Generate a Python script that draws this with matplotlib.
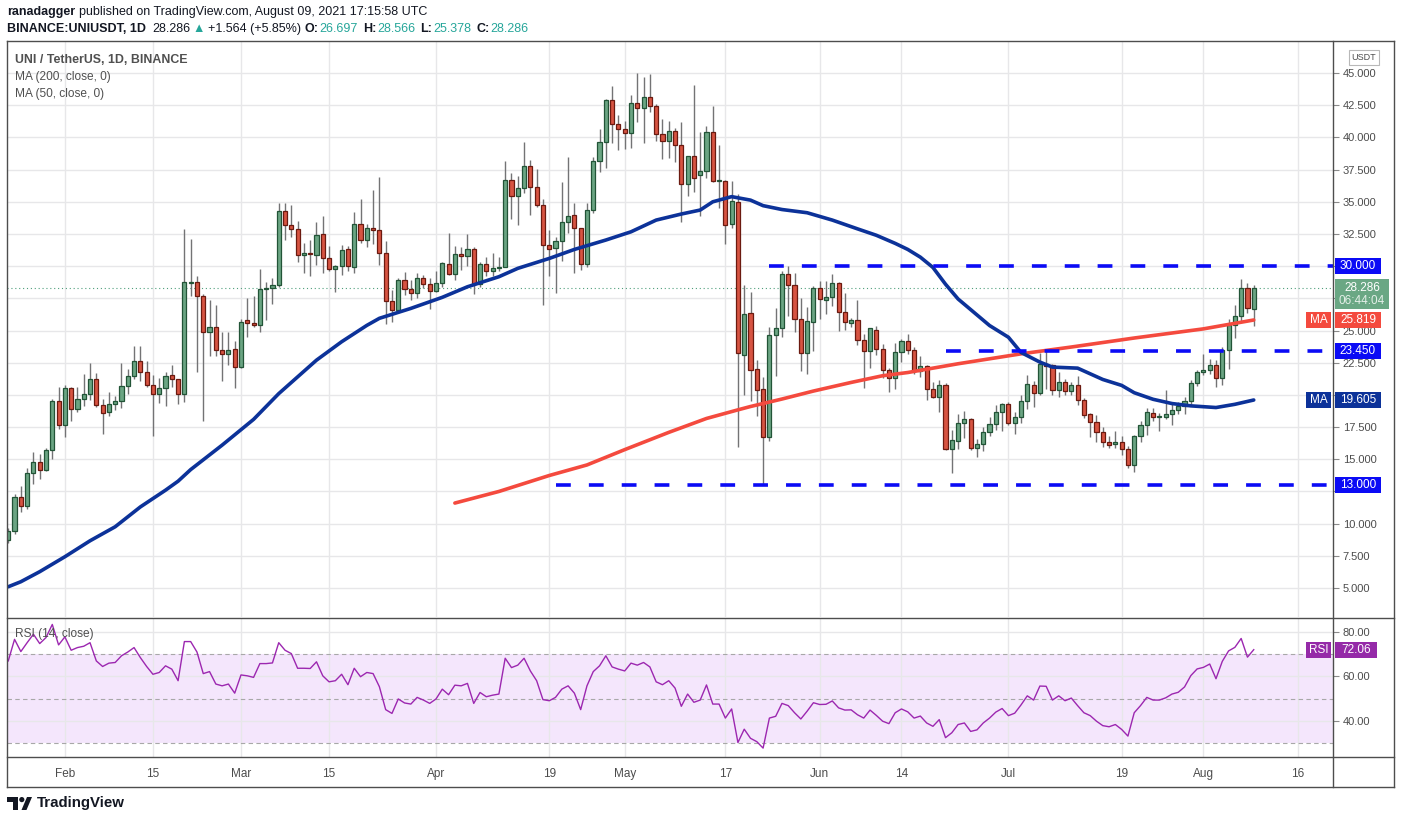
import numpy as np
import pandas as pd
import matplotlib
matplotlib.use("Agg")
import matplotlib.pyplot as plt
from matplotlib.lines import Line2D
from matplotlib.patches import Rectangle, Polygon, Circle

plt.rcParams['font.family'] = ['Liberation Sans', 'DejaVu Sans']

W, H = 1401, 823

# ---- data (UNI/USDT daily, Binance) ----
start_date = "2021-01-23"

opens = [
    8.75, 9.4, 12.08, 11.38, 13.93, 14.77, 14.16, 15.7, 19.56, 17.7,
    20.5, 18.94, 19.7, 20.1, 21.2, 19.2, 18.65, 19.3, 19.5, 20.7,
    21.5, 22.64, 21.8, 20.8, 20.1, 20.5, 21.56, 21.2, 20.1, 28.7,
    28.8, 27.7, 24.85, 25.3, 23.5, 23.15, 23.6, 22.2, 25.8, 25.55,
    25.4, 28.25, 28.3, 28.55, 34.26, 33.18, 32.87, 30.84, 31.0, 30.9,
    32.5, 30.6, 29.8, 30.0, 31.33, 29.9, 33.26, 32.0, 33.0, 32.83,
    31.06, 27.27, 26.57, 28.9, 28.2, 27.9, 29.05, 28.6, 28.04, 28.7,
    30.2, 29.43, 30.98, 30.82, 31.3, 28.58, 30.2, 29.6, 29.82, 29.97,
    36.7, 35.44, 36.08, 37.78, 36.16, 34.77, 31.65, 31.4, 31.92, 33.42,
    33.96, 32.95, 30.16, 34.35, 38.16, 39.64, 42.9, 41.04, 40.65, 40.34,
    42.67, 42.28, 43.13, 42.44, 40.26, 39.7, 40.5, 39.4, 36.37, 38.55,
    37.07, 37.38, 40.41, 36.6, 36.6, 33.3, 35.0, 23.12, 26.4, 21.98,
    20.43, 16.7, 24.69, 25.16, 29.42, 28.57, 25.93, 23.22, 25.7, 28.28,
    27.4, 27.63, 28.72, 26.47, 25.6, 25.85, 24.3, 23.42, 25.08, 23.6,
    21.9, 21.28, 23.32, 24.17, 23.5, 21.85, 22.24, 20.48, 19.83, 20.76,
    15.8, 16.42, 17.82, 18.13, 15.88, 16.19, 17.12, 17.74, 18.67, 19.29,
    17.82, 18.28, 19.55, 20.76, 20.14, 22.39, 22.3, 20.37, 21.0, 20.3,
    20.76, 19.58, 18.48, 17.9, 17.1, 16.37, 16.16, 16.32, 15.78, 14.59,
    16.78, 17.63, 18.63, 18.3, 18.25, 18.55, 18.86, 19.12, 19.56, 20.94,
    21.79, 21.97, 22.33, 21.3, 23.52, 25.42, 26.14, 28.27, 26.697,
]
highs = [
    9.63, 12.33, 12.9, 14.34, 15.6, 15.42, 15.88, 19.66, 20.6, 20.8,
    20.64, 20.6, 21.6, 22.5, 21.7, 19.7, 20.2, 19.9, 22.5, 22.05,
    23.8, 23.8, 22.6, 21.56, 21.3, 21.8, 22.3, 21.25, 32.9, 32.1,
    29.2, 27.8, 27.4, 27.0, 24.85, 24.9, 24.2, 25.9, 27.5, 27.7,
    29.8, 28.8, 29.1, 34.93, 34.93, 34.75, 33.5, 31.8, 32.0, 33.4,
    33.9, 31.6, 30.1, 31.66, 31.6, 34.2, 35.2, 33.26, 35.9, 36.9,
    31.93, 28.14, 29.07, 29.56, 28.9, 29.5, 29.3, 29.07, 29.6, 30.3,
    32.55, 31.57, 31.5, 32.47, 31.47, 30.36, 30.7, 31.0, 30.7, 38.2,
    37.24, 36.98, 39.64, 38.27, 37.58, 35.18, 32.78, 32.25, 36.55, 38.5,
    34.9, 32.95, 34.9, 38.47, 40.67, 42.98, 44.0, 41.76, 41.27, 43.3,
    45.0, 44.7, 44.95, 42.62, 41.42, 41.3, 40.73, 41.2, 38.55, 44.1,
    40.4, 40.9, 42.46, 39.43, 36.7, 36.65, 35.57, 28.5, 28.0, 22.7,
    21.36, 25.26, 26.73, 29.6, 30.0, 29.44, 27.56, 26.8, 28.44, 28.85,
    28.82, 29.42, 28.8, 27.9, 26.0, 27.35, 24.72, 25.23, 25.36, 23.94,
    22.08, 24.07, 24.33, 24.74, 23.7, 23.04, 22.34, 21.0, 21.12, 20.94,
    17.3, 18.54, 18.72, 18.2, 16.6, 17.5, 18.28, 19.19, 19.4, 19.44,
    18.67, 19.96, 21.56, 21.05, 23.27, 23.53, 22.42, 21.77, 21.25, 21.0,
    21.46, 19.74, 18.58, 18.43, 17.5, 16.78, 17.17, 16.78, 16.06, 16.9,
    17.96, 18.97, 18.97, 18.58, 20.35, 19.32, 19.48, 19.84, 21.12, 21.97,
    23.2, 22.8, 22.74, 23.75, 25.93, 26.99, 28.97, 28.66, 28.566,
]
lows = [
    8.5, 9.2, 10.87, 11.17, 13.05, 13.5, 14.08, 15.0, 17.35, 16.7,
    17.96, 18.7, 19.15, 19.6, 19.1, 17.0, 18.4, 18.8, 19.0, 20.05,
    21.25, 21.1, 20.6, 16.8, 19.4, 19.15, 20.6, 19.3, 19.45, 27.7,
    21.8, 18.0, 23.05, 23.0, 21.05, 22.3, 20.5, 22.1, 24.5, 25.3,
    24.9, 25.8, 27.1, 28.37, 32.0, 32.3, 30.3, 29.5, 29.2, 30.1,
    29.5, 29.6, 28.0, 29.35, 29.65, 29.5, 31.8, 31.46, 31.7, 30.1,
    25.5, 25.64, 26.4, 27.78, 27.37, 27.55, 28.3, 26.7, 28.0, 28.35,
    29.33, 28.9, 29.7, 30.0, 27.8, 28.35, 29.25, 29.2, 29.6, 29.94,
    33.7, 33.17, 35.7, 33.94, 34.59, 26.99, 29.2, 27.95, 30.4, 32.6,
    29.5, 29.7, 29.97, 34.1, 37.28, 37.6, 39.6, 39.0, 39.14, 39.2,
    41.17, 39.53, 41.94, 39.7, 38.3, 38.4, 38.06, 33.4, 35.47, 35.73,
    33.86, 36.84, 36.5, 34.48, 31.76, 32.93, 15.98, 20.0, 19.55, 18.4,
    13.0, 16.45, 21.49, 24.46, 26.14, 24.85, 21.82, 21.66, 23.42, 25.88,
    26.32, 26.9, 24.97, 25.05, 25.28, 23.9, 20.5, 22.1, 23.11, 21.3,
    20.25, 20.48, 22.52, 23.14, 21.64, 21.43, 19.57, 19.75, 18.67, 15.7,
    13.91, 15.8, 16.65, 15.7, 15.15, 15.62, 16.78, 17.3, 17.17, 17.64,
    16.94, 17.82, 18.93, 19.1, 20.01, 20.48, 19.96, 19.83, 19.96, 19.96,
    19.19, 18.17, 16.7, 16.37, 15.93, 15.85, 15.85, 15.37, 14.36, 14.0,
    16.37, 16.88, 17.96, 17.22, 18.12, 17.68, 18.5, 18.5, 19.27, 20.69,
    21.54, 21.66, 20.64, 20.77, 22.02, 24.44, 25.7, 26.34, 25.378,
]
closes = [
    9.4, 12.08, 11.38, 13.93, 14.77, 14.16, 15.7, 19.56, 17.7, 20.5,
    18.94, 19.7, 20.1, 21.2, 19.2, 18.6, 19.3, 19.5, 20.7, 21.5,
    22.64, 21.8, 20.8, 20.1, 20.5, 21.5, 21.2, 20.1, 28.8, 28.8,
    27.7, 24.85, 25.3, 23.5, 23.15, 23.5, 22.2, 25.7, 25.55, 25.4,
    28.25, 28.3, 28.55, 34.26, 33.23, 32.85, 30.84, 31.0, 30.95, 32.4,
    30.6, 29.8, 30.0, 31.25, 30.0, 33.26, 32.0, 32.95, 32.83, 31.06,
    27.27, 26.57, 28.9, 28.2, 27.9, 29.05, 28.6, 28.04, 28.7, 30.23,
    29.43, 30.98, 30.82, 31.3, 28.58, 30.2, 29.6, 29.82, 29.97, 36.7,
    35.44, 36.08, 37.78, 36.13, 34.74, 31.65, 31.36, 31.94, 33.42, 33.89,
    32.95, 30.16, 34.35, 38.16, 39.64, 42.9, 41.04, 40.65, 40.34, 42.67,
    42.28, 43.13, 42.44, 40.26, 39.7, 40.5, 39.4, 36.37, 38.55, 36.84,
    37.38, 40.41, 36.6, 36.65, 33.19, 35.08, 23.22, 26.3, 21.95, 20.35,
    16.7, 24.69, 25.16, 29.42, 28.57, 25.93, 23.22, 25.78, 28.28, 27.48,
    27.63, 28.72, 26.47, 25.7, 25.85, 24.3, 23.42, 25.16, 23.6, 21.9,
    21.28, 23.32, 24.15, 23.5, 21.85, 22.24, 20.48, 19.83, 20.76, 15.8,
    16.5, 17.82, 18.15, 15.88, 16.19, 17.12, 17.74, 18.67, 19.29, 17.82,
    18.28, 19.55, 20.87, 20.14, 22.39, 22.24, 20.37, 21.0, 20.3, 20.76,
    19.62, 18.45, 17.86, 17.1, 16.32, 16.11, 16.32, 15.78, 14.54, 16.78,
    17.63, 18.68, 18.25, 18.33, 18.55, 18.86, 19.12, 19.56, 20.94, 21.79,
    21.97, 22.33, 21.3, 23.52, 25.42, 26.14, 28.27, 26.722, 28.286,
]

rsi_values = [
    67.0, 76.7, 71.2, 75.2, 79.0, 74.8, 77.5, 83.4, 74.2, 77.8,
    71.8, 73.0, 73.6, 75.2, 67.0, 64.5, 66.0, 66.3, 69.3, 71.0,
    73.0, 68.5, 64.5, 61.0, 61.8, 64.8, 63.3, 58.1, 75.7, 75.7,
    71.0, 61.3, 62.2, 56.6, 55.8, 56.6, 52.5, 60.7, 60.3, 59.6,
    65.8, 65.8, 66.1, 75.2, 71.8, 70.3, 63.7, 63.7, 63.6, 66.6,
    60.3, 57.6, 58.1, 61.0, 56.3, 63.7, 59.9, 61.8, 61.3, 55.4,
    45.1, 43.4, 49.9, 48.1, 47.6, 50.6, 49.4, 47.9, 49.9, 54.3,
    51.8, 56.1, 55.8, 56.9, 47.9, 52.8, 50.9, 51.6, 52.1, 68.2,
    64.0, 65.1, 68.2, 62.5, 58.1, 49.6, 49.1, 50.6, 54.3, 55.8,
    52.5, 45.1, 55.8, 62.2, 64.8, 69.3, 64.3, 63.3, 62.5, 66.0,
    65.1, 66.3, 64.3, 57.6, 56.3, 58.1, 54.8, 46.6, 52.1, 48.4, 49.4,
    56.2, 47.6, 47.6, 41.3, 45.4, 30.3, 36.3, 32.2, 30.7, 27.8,
    41.3, 42.1, 47.9, 46.9, 43.7, 40.9, 44.4, 48.2, 47.4, 47.5,
    49.0, 45.9, 44.9, 45.0, 42.8, 41.3, 44.9, 42.5, 39.9, 38.8,
    43.7, 45.4, 44.1, 41.3, 42.2, 39.1, 37.6, 40.6, 32.5, 34.7,
    38.4, 39.1, 35.3, 36.0, 39.1, 41.3, 44.0, 45.6, 42.4, 43.5,
    47.2, 51.3, 49.4, 55.7, 55.6, 49.4, 51.3, 49.1, 50.3, 46.9,
    43.7, 42.4, 39.9, 37.9, 37.4, 38.4, 36.2, 33.2, 43.7, 46.9,
    50.6, 49.4, 49.4, 50.4, 52.1, 52.9, 55.3, 60.4, 63.4, 64.1,
    65.6, 59.0, 66.8, 71.5, 73.1, 77.1, 68.7, 72.06,
]

# moving averages, sampled along the drawn lines (day offset from start_date)
ma50_days = [0, 2, 5, 9, 13, 17, 21, 25, 27, 29, 34, 39, 43, 49, 53, 57, 59, 64,
             69, 73, 78, 81, 86, 90, 95, 99, 103, 107, 110, 112, 115, 118, 120,
             123, 127, 131, 135, 138, 141, 143, 145, 147, 149, 151, 156, 159, 161,
             164, 166, 170, 174, 177, 179, 182, 185, 188, 192, 195, 198]
ma50_values = [5.1, 5.49, 6.27, 7.43, 8.67, 9.76, 11.3, 12.6, 13.3, 14.2, 16.1,
               18.1, 20.1, 22.7, 24.13, 25.4, 25.95, 26.72, 27.58, 28.4, 29.18,
               29.83, 30.6, 31.3, 32.03, 32.67, 33.58, 34.05, 34.36, 35.0, 35.4,
               35.13, 34.7, 34.4, 34.15, 33.58, 32.9, 32.4, 31.77, 31.3, 30.7,
               29.9, 28.6, 27.45, 25.39, 24.48, 23.3, 22.55, 22.16, 22.08, 21.2,
               20.74, 20.17, 19.66, 19.33, 19.15, 19.02, 19.27, 19.605]
ma200_days = [71, 78, 86, 92, 98, 105, 111, 116, 118, 123, 128, 134, 139, 143,
              151, 161, 169, 179, 190, 198]
ma200_values = [11.6, 12.5, 13.74, 14.56, 15.75, 17.09, 18.17, 18.84, 19.1,
                19.68, 20.3, 20.97, 21.49, 21.74, 22.42, 23.19, 23.72, 24.42,
                25.13, 25.819]

# horizontal levels drawn by the author
level_values = [30.0, 23.45, 13.0]
level_starts = ["2021-05-24", "2021-06-21", "2021-04-20"]

price_ticks = [5.0, 7.5, 10.0, 12.5, 15.0, 17.5, 20.0, 22.5, 25.0, 27.5, 30.0,
               32.5, 35.0, 37.5, 40.0, 42.5, 45.0]
rsi_ticks = [40, 60, 80]
date_ticks = ["2021-02-01", "2021-02-15", "2021-03-01", "2021-03-15", "2021-04-01",
              "2021-04-19", "2021-05-01", "2021-05-17", "2021-06-01", "2021-06-14",
              "2021-07-01", "2021-07-19", "2021-08-01", "2021-08-16"]
date_tick_labels = ["Feb", "15", "Mar", "15", "Apr", "19", "May", "17", "Jun",
                    "14", "Jul", "19", "Aug", "16"]

# ---- colours ----
UP_FILL, UP_EDGE = "#6ba583", "#225437"
DN_FILL, DN_EDGE = "#d75442", "#6b1a10"
WICK = "#737375"
MA50_C = "#0c3299"
MA200_C = "#f44a3e"
LEVEL_C = "#0b0bf5"
RSI_C = "#9c27b0"
RSI_TAG = "#952aa8"
LAST_C = "#6aa784"
BAND_C = "#f4e6fc"
GRID_C = "#e7e7e9"
FRAME_C = "#4d4d4d"
TXT = "#131722"
AXT = "#4c4c4c"
LEG = "#505050"
TEAL = "#26a69a"


def fx(px):
    return px / W


def fy(py):
    return 1 - py / H


def day_pos(d, t0):
    return (pd.Timestamp(d) - t0).days


def frame_line(fig, x0, y0, x1, y1):
    fig.add_artist(Line2D([fx(x0), fx(x1)], [fy(y0), fy(y1)], color=FRAME_C,
                          lw=1.0, zorder=20))


def text_runs(fig, x_px, y_px, runs, size):
    renderer = fig.canvas.get_renderer()
    x = x_px
    for text, color, weight, gap in runs:
        t = fig.text(fx(x), fy(y_px), text, color=color, fontweight=weight,
                     fontsize=size, ha="left", va="center")
        x += t.get_window_extent(renderer).width + gap


def price_tag(fig, ax, value, text, fc, x0, w, h=16, dy=0.0, size=8.5):
    # box centred (plus dy pixels) on the value's screen position
    yd = ax.transData.transform((0, value))[1] + dy
    fig.add_artist(Rectangle((fx(x0), (yd - h / 2) / H), w / W, h / H,
                             transform=fig.transFigure, fc=fc, ec="none", zorder=30))
    if text:
        fig.text(fx(x0 + w / 2), yd / H, text, ha="center", va="center",
                 fontsize=size, color="white", zorder=31)
    return yd - h / 2, yd + h / 2


def hide_covered_ticks(ax, ticks, spans, fmt):
    # blank the right-axis labels that sit under a price tag
    labels = []
    for v in ticks:
        y = ax.transData.transform((0, v))[1]
        covered = any(min(y + 5, top) - max(y - 5, bot) > 3 for bot, top in spans)
        labels.append("" if covered else fmt.format(v))
    ax.set_yticks(ticks)
    ax.set_yticklabels(labels)


def draw_candles(ax, x):
    o, h, l, c = map(np.asarray, (opens, highs, lows, closes))
    up = c >= o
    ax.vlines(x, l, h, color=WICK, lw=1.0, zorder=2)
    bottom = np.minimum(o, c)
    height = np.maximum(np.abs(c - o), 0.07)
    ax.bar(x[up], height[up], 0.66, bottom[up], color=UP_FILL,
           edgecolor=UP_EDGE, lw=0.9, zorder=3)
    ax.bar(x[~up], height[~up], 0.66, bottom[~up], color=DN_FILL,
           edgecolor=DN_EDGE, lw=0.9, zorder=3)


def draw_logo(fig):
    lax = fig.add_axes([fx(7), fy(812), fx(32) - fx(7), fy(795) - fy(812)])
    lax.set_xlim(0, 25)
    lax.set_ylim(17, 0)
    lax.axis("off")
    lax.add_patch(Polygon([(0, 2), (11, 2), (11, 15), (6, 15), (6, 7), (0, 7)],
                          closed=True, fc=TXT, ec="none"))
    lax.add_patch(Circle((14.8, 4.6), 2.6, fc=TXT, ec="none"))
    lax.add_patch(Polygon([(14.5, 15), (20, 2), (25, 2), (19.5, 15)],
                          closed=True, fc=TXT, ec="none"))
    fig.text(fx(37), fy(803), "TradingView", fontsize=10.8, fontweight="bold",
             color=TXT, ha="left", va="center")


def main():
    t0 = pd.Timestamp(start_date)
    n = len(closes)
    x = np.arange(n)

    fig = plt.figure(figsize=(W / 100, H / 100), dpi=100, facecolor="white")
    ax = fig.add_axes([fx(7), fy(617), fx(1333) - fx(7), fy(41) - fy(617)])
    rax = fig.add_axes([fx(7), fy(757), fx(1333) - fx(7), fy(618) - fy(757)],
                       sharex=ax)

    xticks = [day_pos(d, t0) for d in date_ticks]

    # ---- price panel ----
    draw_candles(ax, x)
    ax.plot(ma200_days, ma200_values, color=MA200_C, lw=2.6, zorder=4,
            solid_capstyle="round")
    ax.plot(ma50_days, ma50_values, color=MA50_C, lw=2.6, zorder=4,
            solid_capstyle="round")
    for v, s in zip(level_values, level_starts):
        ax.plot([day_pos(s, t0), 220], [v, v], color=LEVEL_C, lw=2.6,
                ls=(0, (4.1, 5.0)), zorder=5)
    ax.axhline(closes[-1], color="#4f9f7c", lw=0.8, ls=(0, (1, 2.5)), zorder=1)

    ax.set_xlim(-0.2, 210.6)
    ax.set_ylim(2.75, 47.49)
    ax.yaxis.tick_right()
    ax.set_xticks(xticks)
    ax.tick_params(axis="x", length=0, labelbottom=False)
    ax.tick_params(axis="y", length=4, color="#8a8a8a", labelsize=8,
                   labelcolor=AXT, pad=3)
    ax.set_axisbelow(True)
    ax.grid(color=GRID_C, lw=1.0)
    for sp in ax.spines.values():
        sp.set_visible(False)

    # ---- RSI panel ----
    rax.axhspan(30, 70, color=BAND_C, zorder=0.2, lw=0)
    for v in (30, 50, 70):
        rax.axhline(v, color="#a8a8a8", lw=0.8, ls=(0, (4, 3)), zorder=1)
    rax.plot(x, rsi_values, color=RSI_C, lw=1.0, zorder=3)
    rax.set_ylim(23.8, 86.3)
    rax.set_yticks(rsi_ticks)
    rax.set_yticklabels([f"{v:.2f}" for v in rsi_ticks])
    rax.yaxis.tick_right()
    rax.set_xticks(xticks)
    rax.set_xticklabels(date_tick_labels)
    rax.tick_params(axis="x", length=0, labelsize=8.5, labelcolor=AXT, pad=14.5)
    for lbl in rax.get_xticklabels():
        lbl.set_verticalalignment("baseline")
    rax.tick_params(axis="y", length=4, color="#8a8a8a", labelsize=8,
                    labelcolor=AXT, pad=3)
    rax.set_axisbelow(True)
    rax.grid(color=GRID_C, lw=1.0)
    for sp in rax.spines.values():
        sp.set_visible(False)

    # ---- frame ----
    frame_line(fig, 7, 41, 1394, 41)
    frame_line(fig, 7, 787, 1394, 787)
    frame_line(fig, 7, 41, 7, 787)
    frame_line(fig, 1394, 41, 1394, 787)
    frame_line(fig, 1333, 41, 1333, 787)
    frame_line(fig, 7, 617.5, 1394, 617.5)
    frame_line(fig, 7, 757, 1394, 757)

    # ---- legends ----
    fig.text(fx(15), fy(60), "UNI / TetherUS, 1D, BINANCE", fontsize=8.9,
             fontweight="bold", color=LEG, va="center")
    fig.text(fx(15), fy(77), "MA (200, close, 0)", fontsize=8.6, color=LEG,
             va="center")
    fig.text(fx(15), fy(94), "MA (50, close, 0)", fontsize=8.6, color=LEG,
             va="center")
    fig.text(fx(15), fy(634), "RSI (14, close)", fontsize=8.6, color=LEG,
             va="center")

    # ---- header ----
    text_runs(fig, 7, 12, [
        ("ranadagger", TXT, "bold", 4),
        ("published on TradingView.com, August 09, 2021 17:15:58 UTC", TXT,
         "normal", 0)], 9)
    chg = closes[-1] - closes[-2]
    pct = chg / closes[-2] * 100
    text_runs(fig, 7, 29, [
        ("BINANCE:UNIUSDT, 1D", TXT, "bold", 6),
        (f"{closes[-1]:.3f}", TXT, "normal", 2),
        ("\u25b2", TEAL, "normal", 3),
        (f"+{chg:.3f} (+{pct:.2f}%)", TXT, "normal", 4),
        ("O:", TXT, "bold", 1), (f"{opens[-1]:.3f}", TEAL, "normal", 5),
        ("H:", TXT, "bold", 1), (f"{highs[-1]:.3f}", TEAL, "normal", 5),
        ("L:", TXT, "bold", 1), (f"{lows[-1]:.3f}", TEAL, "normal", 5),
        ("C:", TXT, "bold", 1), (f"{closes[-1]:.3f}", TEAL, "normal", 0)], 9)

    # ---- right axis tags ----
    fig.add_artist(Rectangle((fx(1349), fy(65)), 30 / W, 15 / H,
                             transform=fig.transFigure, fc="white",
                             ec="#b8b8b8", lw=0.8, zorder=30))
    fig.text(fx(1364), fy(57.5), "USDT", fontsize=6.5, color=AXT, ha="center",
             va="center", zorder=31)
    spans = []
    spans.append(price_tag(fig, ax, level_values[0], f"{level_values[0]:.3f}",
                           LEVEL_C, 1335, 46))
    spans.append(price_tag(fig, ax, closes[-1], "", LAST_C, 1335, 54, h=30, dy=-6))
    y_last = ax.transData.transform((0, closes[-1]))[1]
    fig.text(fx(1362), y_last / H, f"{closes[-1]:.3f}", ha="center", va="center",
             fontsize=8.5, color="white", zorder=32)
    fig.text(fx(1362), (y_last - 13) / H, "06:44:04", ha="center", va="center",
             fontsize=8.5, color="#e4efe8", zorder=32)
    price_tag(fig, ax, ma200_values[-1], "MA", MA200_C, 1306, 25)
    spans.append(price_tag(fig, ax, ma200_values[-1], f"{ma200_values[-1]:.3f}",
                           MA200_C, 1335, 46))
    spans.append(price_tag(fig, ax, level_values[1], f"{level_values[1]:.3f}",
                           LEVEL_C, 1335, 46))
    price_tag(fig, ax, ma50_values[-1], "MA", MA50_C, 1306, 25)
    spans.append(price_tag(fig, ax, ma50_values[-1], f"{ma50_values[-1]:.3f}",
                           MA50_C, 1335, 46))
    spans.append(price_tag(fig, ax, level_values[2], f"{level_values[2]:.3f}",
                           LEVEL_C, 1335, 46))
    hide_covered_ticks(ax, price_ticks, spans, "{:.3f}")

    price_tag(fig, rax, rsi_values[-1], "RSI", RSI_TAG, 1306, 25)
    price_tag(fig, rax, rsi_values[-1], f"{rsi_values[-1]:.2f}", RSI_TAG, 1335, 42)

    draw_logo(fig)

    fig.savefig("out.png", dpi=100, facecolor="white")


if __name__ == "__main__":
    main()
